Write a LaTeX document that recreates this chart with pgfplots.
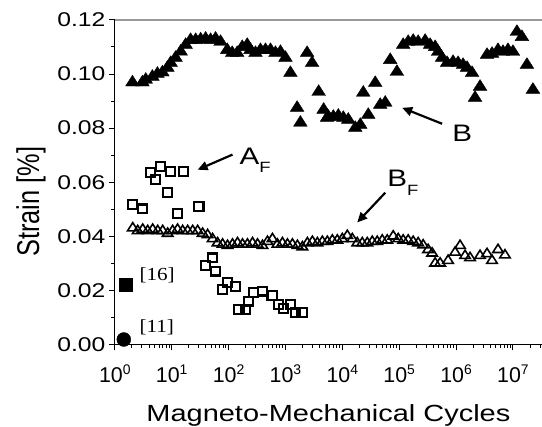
\documentclass[border=0pt]{standalone}
\usepackage{pgfplots}
\pgfplotsset{compat=1.18}
\usepackage{fontspec}
\usepackage{graphicx}
\usetikzlibrary{arrows.meta}
\setmainfont{Liberation Sans}
\newfontfamily\wide{Liberation Sans}[FakeStretch=1.24]
\newfontfamily\wideserif{Liberation Serif}[FakeStretch=1.15]
\newcommand\tk[1]{10\raisebox{8bp}{\fontsize{14}{14}\selectfont #1}}
\begin{document}
\begin{tikzpicture}
\begin{axis}[
  width=428bp, height=325bp, scale only axis,
  xmode=log, xmin=1, xmax=3.24e7, ymin=0, ymax=0.12,
  axis x line*=bottom, axis y line*=left,
  axis line style={line width=1.2bp, black},
  tick style={black, line width=1bp},
  major tick length=6bp, minor tick length=3.5bp,
  tick align=outside,
  xtick={1,10,100,1000,10000,100000,1000000,10000000},
  xticklabels={\tk{0},\tk{1},\tk{2},\tk{3},\tk{4},\tk{5},\tk{6},\tk{7}},
  minor xtick={2,3,4,5,6,7,8,9,20,30,40,50,60,70,80,90,200,300,400,500,600,700,800,900,2000,3000,4000,5000,6000,7000,8000,9000,2e4,3e4,4e4,5e4,6e4,7e4,8e4,9e4,2e5,3e5,4e5,5e5,6e5,7e5,8e5,9e5,2e6,3e6,4e6,5e6,6e6,7e6,8e6,9e6,2e7,3e7},
  ytick={0,0.02,0.04,0.06,0.08,0.1,0.12},
  yticklabels={0.00,0.02,0.04,0.06,0.08,0.10,0.12},
  minor ytick={0.01,0.03,0.05,0.07,0.09,0.11},
  yticklabel style={font=\wide\fontsize{20}{20}\selectfont},
  xticklabel style={font=\fontsize{21.5}{21.5}\selectfont, yshift=-11bp},
  clip=false,
  xlabel={\wide\fontsize{23.5}{23.5}\selectfont Magneto-Mechanical Cycles},
  xlabel style={at={(axis description cs:0.5,-0.237)}, anchor=base},
  ylabel={\scalebox{1}[1.24]{\fontsize{25.5}{25.5}\selectfont Strain [\%]}},
  ylabel style={at={(axis description cs:-0.196,0.44)}, anchor=center},
]
\draw[gray!80, line width=1.5bp] (rel axis cs:0,1) -- (rel axis cs:1,1);
% B
\addplot[only marks, mark=triangle*, mark size=7.2bp, mark options={xscale=1.1, fill=black, draw=black}] coordinates {
(2.045,0.0969)(3.06,0.0969)(3.50,0.0979)(4.58,0.0990)(5.62,0.1001)(6.87,0.1006)(8.41,0.1023)(9.6,0.1041)(11.7,0.1060)(14.4,0.1083)(17.6,0.1108)(21.5,0.1126)(26.4,0.1126)(32.3,0.1128)(39.5,0.1131)(48.3,0.1126)(59.1,0.1131)(72.4,0.1119)(94.8,0.1089)(116,0.1078)(142,0.1078)(174,0.1100)(213,0.1108)(243,0.1089)(298,0.1078)(364,0.1089)(446,0.1089)(546,0.1089)(668,0.1078)(817,0.1082)(1000,0.1060)(1224,0.1004)(1604,0.0875)(1833,0.0820)(2404,0.1078)(2941,0.1041)(3840,0.0934)(4697,0.0868)(5395,0.0838)(5680,0.0842)(6950,0.0842)(8510,0.0846)(10420,0.0838)(12740,0.0831)(16900,0.0801)(20700,0.0812)(23360,0.0931)(28600,0.0849)(37900,0.0967)(46400,0.0886)(56800,0.0894)(69500,0.1052)(91200,0.1008)(117500,0.1108)(143900,0.1119)(176200,0.1123)(215400,0.1119)(285800,0.1123)(349900,0.1108)(428300,0.1100)(483300,0.1082)(567800,0.1060)(695000,0.1041)(885100,0.1045)(1.084e6,0.1041)(1.327e6,0.1034)(1.560e6,0.1023)(1.910e6,0.1004)(2.155e6,0.0912)(2.637e6,0.0953)(3.500e6,0.1071)(4.285e6,0.1075)(5.458e6,0.1089)(6.680e6,0.1082)(8.17e6,0.1089)(1e7,0.1082)(1.175e7,0.1156)(1.438e7,0.1137)(1.761e7,0.1034)(2.244e7,0.0942)
};
% B_F
\addplot[only marks, mark=triangle, mark size=5.5bp, mark options={xscale=1.1, draw=black, fill=white, line width=1.6bp}] coordinates {
(2.07,0.043)(2.53,0.042)(3.10,0.0425)(3.79,0.042)(4.64,0.0425)(5.68,0.042)(6.95,0.042)(8.51,0.041)(10.4,0.042)(12.7,0.0425)(15.6,0.042)(19.1,0.042)(23.4,0.042)(28.6,0.042)(35.0,0.041)(42.8,0.0405)(52.4,0.039)(64.1,0.0375)(78.5,0.037)(96.0,0.0365)(117.5,0.037)(143.8,0.0375)(176,0.037)(215,0.037)(264,0.0375)(323,0.037)(395,0.0365)(483,0.038)(591,0.039)(724,0.037)(886,0.0375)(1084,0.037)(1327,0.037)(1624,0.0365)(1987,0.036)(2432,0.0375)(2977,0.038)(3642,0.0375)(4457,0.038)(5455,0.038)(6676,0.0385)(8170,0.0385)(10000,0.039)(12240,0.0402)(14980,0.039)(18330,0.0375)(22440,0.0375)(27460,0.0375)(33600,0.038)(41120,0.038)(50330,0.0385)(61590,0.0385)(78520,0.040)(96050,0.039)(117500,0.0385)(143800,0.0385)(176000,0.038)(215400,0.0375)(263600,0.0367)(322600,0.035)(379300,0.0337)(428300,0.030)(524100,0.030)(724000,0.031)(960500,0.034)(1.175e6,0.0365)(1.438e6,0.0328)(1.761e6,0.032)(2.637e6,0.0328)(3.500e6,0.0335)(4.285e6,0.031)(5.458e6,0.035)(7.24e6,0.033)
};
% A_F
\addplot[only marks, mark=square, mark size=4.4bp, mark options={xscale=1.05, draw=black, fill=white, line width=2.1bp}] coordinates {
(2.045,0.0517)(3.06,0.0501)(4.28,0.0635)(5.24,0.0609)(6.41,0.0657)(8.51,0.0561)(9.6,0.0639)(16.2,0.0639)(12.6,0.0483)(30.1,0.0511)(39.5,0.0292)(51.8,0.0320)(59.1,0.0271)(77.5,0.0203)(94.9,0.0228)(132.7,0.0215)(151.7,0.0129)(198.7,0.0129)(227,0.0160)(278,0.0191)(390,0.0197)(584,0.0181)(763,0.0148)(934,0.0132)(1224,0.0148)(1497,0.0117)(1963,0.0117)
};
% [16]
\addplot[only marks, mark=square*, mark size=6.5bp, mark options={fill=black, draw=black}] coordinates {(1.55,0.022)};
% [11]
\addplot[only marks, mark=*, mark size=7bp, mark options={fill=black, draw=black}] coordinates {(1.44,0.0018)};
\node[anchor=base west, inner sep=0pt, font=\wideserif\fontsize{18.5}{18.5}\selectfont] at (axis cs:2.7,0.0235) {[16]};
\node[anchor=base west, inner sep=0pt, font=\wideserif\fontsize{18.5}{18.5}\selectfont] at (axis cs:2.7,0.0043) {[11]};
\node[anchor=base west, inner sep=0pt, font=\wide\fontsize{24}{24}\selectfont] at (axis cs:156,0.0665) {A\raisebox{-8bp}{\fontsize{15}{15}\selectfont F}};
\node[anchor=base west, inner sep=0pt, font=\wide\fontsize{24}{24}\selectfont] at (axis cs:851000,0.0750) {B};
\node[anchor=base west, inner sep=0pt, font=\wide\fontsize{24}{24}\selectfont] at (axis cs:61500,0.0583) {B\raisebox{-9bp}{\fontsize{15}{15}\selectfont F}};
\draw[line width=2.2bp, -{Triangle[length=10bp,width=9bp]}] (axis cs:117.5,0.0702) -- (axis cs:28.6,0.0646);
\draw[line width=2.2bp, -{Triangle[length=10bp,width=9bp]}] (axis cs:567800,0.0816) -- (axis cs:113000,0.0875);
\draw[line width=2.2bp, -{Triangle[length=10bp,width=9bp]}] (axis cs:56800,0.0561) -- (axis cs:18300,0.0451);
\end{axis}
\pgfresetboundingbox
\path[use as bounding box] ([xshift=-115bp,yshift=-82bp]current axis.south west) rectangle ([yshift=20bp]current axis.north east);
\end{tikzpicture}
\end{document}
